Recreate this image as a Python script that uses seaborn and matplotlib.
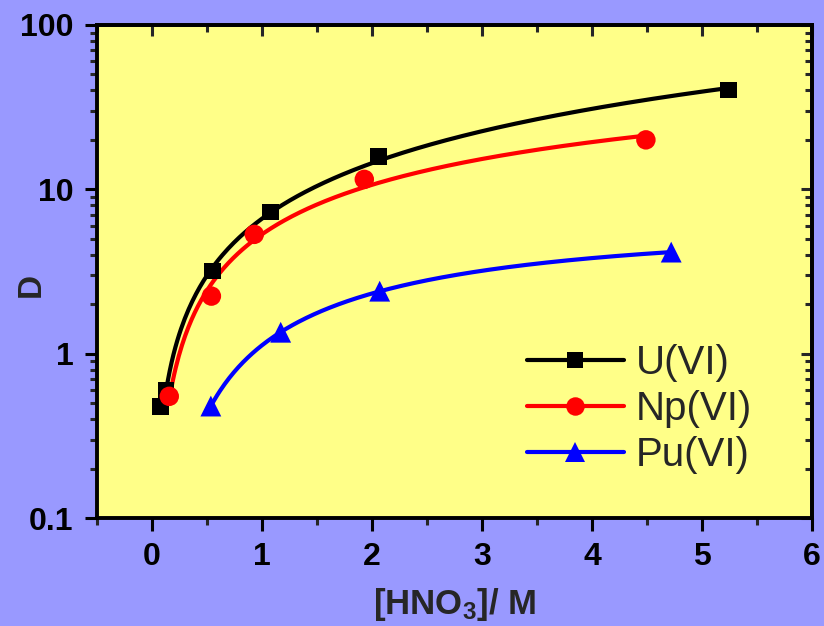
import numpy as np
import pandas as pd
import matplotlib
matplotlib.use("Agg")
import matplotlib.pyplot as plt
from matplotlib.lines import Line2D
from matplotlib.ticker import MultipleLocator, LogLocator, FixedLocator, FixedFormatter, NullFormatter
import seaborn as sns

# ---- data ----
u_x = [0.075, 0.127, 0.55, 1.08, 2.06, 5.24]
u_d = [0.475, 0.597, 3.18, 7.27, 15.8, 40.3]
np_x = [0.157, 0.54, 0.93, 1.93, 4.49]
np_d = [0.55, 2.24, 5.32, 11.5, 20.0]
pu_x = [0.535, 1.17, 2.07, 4.72]
pu_d = [0.48, 1.35, 2.40, 4.15]
series_names = ["U(VI)", "Np(VI)", "Pu(VI)"]
y_ticks = [0.1, 1, 10, 100]
y_tick_labels = ["0.1", "1", "10", "100"]
x_ticks = [0, 1, 2, 3, 4, 5, 6]

sns.set_style("ticks")
plt.rcParams["font.family"] = ["Liberation Sans", "DejaVu Sans"]
plt.rcParams["mathtext.fontset"] = "custom"
plt.rcParams["mathtext.rm"] = "Liberation Sans:bold"
plt.rcParams["mathtext.default"] = "rm"

fig = plt.figure(figsize=(8.24, 6.26), dpi=100, facecolor="#9999FF")
ax = fig.add_axes([97/824, 1-518/626, (812-97)/824, (518-25)/626])
ax.set_facecolor("#FFFF88")

specs = [
    (u_x, u_d, "black", "s", 12, 1),
    (np_x, np_d, "#FF0000", "o", 14, 0),
    (pu_x, pu_d, "#0000FF", "^", 15, 0),
]

handles = []
for (xs, ds, col, mk, ms, start), name in zip(specs, series_names):
    xs_a = np.array(xs[start:])
    ds_a = np.array(ds[start:])
    coef = np.polyfit(np.log10(xs_a), np.log10(ds_a), 2)
    xg = np.linspace(xs_a.min(), xs_a.max(), 300)
    yg = 10 ** np.polyval(coef, np.log10(xg))
    sns.lineplot(x=xg, y=yg, ax=ax, color=col, lw=3, sort=False, zorder=2)
    sns.scatterplot(x=xs, y=ds, ax=ax, color=col, marker=mk, s=ms**2,
                    edgecolor="none", zorder=3)
    handles.append(Line2D([], [], color=col, lw=3, marker=mk, markersize=ms*0.95,
                          markeredgewidth=0, label=name))

ax.set_yscale("log")
ax.set_xlim(-0.5, 6)
ax.set_ylim(0.1, 100)

ax.xaxis.set_major_locator(FixedLocator(x_ticks))
ax.xaxis.set_minor_locator(MultipleLocator(0.5))
ax.yaxis.set_major_locator(FixedLocator(y_ticks))
ax.yaxis.set_major_formatter(FixedFormatter(y_tick_labels))
ax.yaxis.set_minor_locator(LogLocator(base=10, subs=np.arange(2, 10)))
ax.yaxis.set_minor_formatter(NullFormatter())

for sp in ax.spines.values():
    sp.set_linewidth(2.8)
    sp.set_color("black")
    sp.set_visible(True)

ax.tick_params(axis="both", which="major", direction="out", length=9, width=2.2,
               labelsize=23, pad=8, colors="black")
ax.tick_params(axis="both", which="minor", direction="out", length=5, width=2.2)
for lab in ax.get_xticklabels() + ax.get_yticklabels():
    lab.set_fontweight("bold")

# mirrored inward ticks on top / right
axt = ax.secondary_xaxis("top")
axt.xaxis.set_major_locator(FixedLocator(x_ticks))
axt.xaxis.set_minor_locator(MultipleLocator(0.5))
axt.tick_params(which="major", direction="in", length=8, width=2.2, labeltop=False)
axt.tick_params(which="minor", direction="in", length=5, width=2.2)
axt.spines["top"].set_linewidth(2.8)
axr = ax.secondary_yaxis("right")
axr.yaxis.set_major_locator(FixedLocator(y_ticks))
axr.yaxis.set_minor_locator(LogLocator(base=10, subs=np.arange(2, 10)))
axr.yaxis.set_minor_formatter(NullFormatter())
axr.tick_params(which="major", direction="in", length=8, width=2.2, labelright=False)
axr.tick_params(which="minor", direction="in", length=5, width=2.2)
axr.spines["right"].set_linewidth(2.8)

ax.set_xlabel("[HNO$_3$]/ M", fontsize=25, fontweight="bold")
ax.xaxis.set_label_coords((455-97)/715, -(586-518)/493)
ax.set_ylabel("D", fontsize=24, fontweight="bold")
ax.yaxis.set_label_coords(-(97-47)/715, (518-285)/493)

leg = ax.legend(handles=handles, loc="upper left", frameon=False, fontsize=29,
                handlelength=2.4, handletextpad=0.3, labelspacing=0.2,
                borderpad=0, borderaxespad=0,
                bbox_to_anchor=((527-97)/715, (518-344)/493))

fig.savefig("out.png", dpi=100, facecolor=fig.get_facecolor())
